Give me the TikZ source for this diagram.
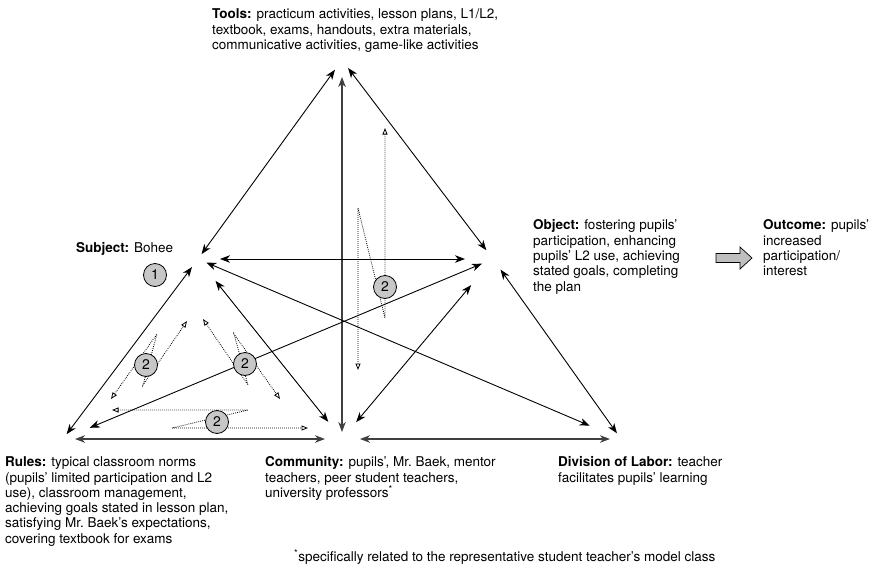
\documentclass[tikz,border=0pt]{standalone}
\usepackage{fontspec}
\setmainfont{TeX Gyre Heros}
\usetikzlibrary{arrows.meta}

\tikzset{
  rel/.style={line width=0.9pt, {Stealth[length=10pt,width=7.5pt,inset=3pt]}-{Stealth[length=10pt,width=7.5pt,inset=3pt]}},
  relbold/.style={rel, line width=1.3pt, black!75},
  trans/.style={line width=0.8pt, dash pattern=on 0.8pt off 1.2pt, {Triangle[open,length=6.5pt,width=5pt]}-{Triangle[open,length=6.5pt,width=5pt]}},
  phase/.style={circle, draw, line width=0.8pt, fill=black!22, minimum size=23pt, inner sep=0pt, font=\fontsize{14}{14}\selectfont},
  txt/.style={anchor=north west, inner sep=0pt, align=left, font=\fontsize{13.5}{15.3}\selectfont}
}

\begin{document}
\begin{tikzpicture}[x=1pt, y=-1pt]

    \useasboundingbox (0,0) rectangle (871,568);

    \coordinate (tools) at (342,60);
    \coordinate (subject) at (198,259);
    \coordinate (object) at (493,259);
    \coordinate (rules) at (63,439);
    \coordinate (community) at (342,439);
    \coordinate (division) at (621,439);

    \node [txt] (toolstext) at (212,8.7) {\textbf{Tools:} practicum activities, lesson plans, L1/L2,\\ textbook, exams, handouts, extra materials,\\ communicative activities, game-like activities};
    \node [txt, anchor=base west] (subjecttext) at (76,252.6) {\textbf{Subject:} Bohee};
    \node [txt] (objecttext) at (533,219.7) {\textbf{Object:} fostering pupils’\\ participation, enhancing\\ pupils’ L2 use, achieving\\ stated goals, completing\\ the plan};
    \node [txt] (outcometext) at (763,219.7) {\textbf{Outcome:} pupils’\\ increased\\ participation/\\ interest};
    \node [txt] (rulestext) at (5,456.7) {\textbf{Rules:} typical classroom norms\\ (pupils’ limited participation and L2\\ use), classroom management,\\ achieving goals stated in lesson plan,\\ satisfying Mr.~Baek’s expectations,\\ covering textbook for exams};
    \node [txt] (communitytext) at (265,456.7) {\textbf{Community:} pupils’, Mr.~Baek, mentor\\ teachers, peer student teachers,\\ university professors\textsuperscript{*}};
    \node [txt] (divisiontext) at (558,456.7) {\textbf{Division of Labor:} teacher\\ facilitates pupils’ learning};
    \node [txt, anchor=base west] (note) at (294,561.6) {\textsuperscript{*}specifically related to the representative student teacher’s model class};

    \draw [rel, shorten <=12pt, shorten >=6pt] (tools) -- (subject);
    \draw [rel, shorten <=10pt, shorten >=11pt] (tools) -- (object);
    \draw [relbold, shorten <=17pt, shorten >=7pt] (tools) -- (community);
    \draw [rel, shorten <=22pt, shorten >=28pt] (subject) -- (object);
    \draw [rel, shorten <=6pt, shorten >=10pt] (rules) -- (subject);
    \draw [rel, shorten <=28pt, shorten >=22pt] (subject) -- (community);
    \draw [rel, shorten <=9pt, shorten >=34pt] (subject) -- (division);
    \draw [rel, shorten <=29pt, shorten >=12pt] (rules) -- (object);
    \draw [relbold, shorten <=12pt, shorten >=17pt] (rules) -- (community);
    \draw [rel, shorten <=22pt, shorten >=34pt] (community) -- (object);
    \draw [relbold, shorten <=18pt, shorten >=11pt] (community) -- (division);
    \draw [rel, shorten <=13pt, shorten >=7pt] (object) -- (division);

    \draw [trans] (111,399) -- (157,334) -- (143,385) -- (187,321);
    \draw [trans] (203,319) -- (248,385) -- (234,334) -- (280,399);
    \draw [trans] (112,410) -- (248,410) -- (172,428) -- (308,428);
    \draw [trans] (385,128) -- (385,318) -- (358,208) -- (358,370);

    \node [phase] (p1) at (155,275) {1};
    \node [phase] (p2a) at (146,365) {2};
    \node [phase] (p2b) at (245,364) {2};
    \node [phase] (p2c) at (217,422) {2};
    \node [phase] (p2d) at (385,287) {2};

    \draw [line width=0.7pt, fill=black!25] (716,253.5) -- (740,253.5) -- (740,247) -- (752,258) -- (740,269) -- (740,262.5) -- (716,262.5) -- cycle;

\end{tikzpicture}
\end{document}
